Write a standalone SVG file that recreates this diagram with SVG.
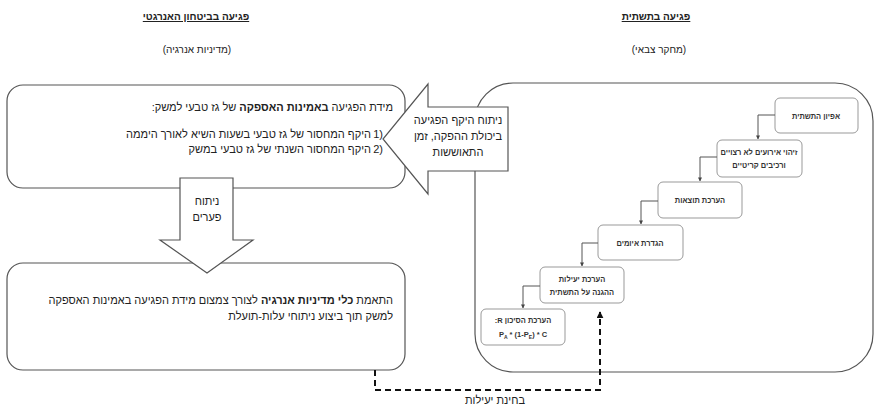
<svg xmlns="http://www.w3.org/2000/svg" width="874" height="408" viewBox="0 0 874 408">
<defs>
<style>
text{font-family:"Liberation Sans","DejaVu Sans",Arial,sans-serif;fill:#222}
.rtl{direction:rtl;unicode-bidi:embed}
.hdr{font-size:10px;font-weight:bold;text-decoration:underline}
.sub{font-size:10px}
.big{fill:#fff;stroke:#555;stroke-width:1.2}
.arr{fill:#fff;stroke:#555;stroke-width:1.2}
.step{fill:#fff;stroke:#999;stroke-width:1}
.st{font-size:7.5px;font-weight:bold;fill:#333}
.t11{font-size:11px}
.conn{fill:none;stroke:#555;stroke-width:1}
.dash{fill:none;stroke:#111;stroke-width:2;stroke-dasharray:6 4}
</style>
<marker id="ah" viewBox="0 0 10 10" refX="9" refY="5" markerWidth="4" markerHeight="4" orient="auto">
<path d="M0,0 L10,5 L0,10 Z" fill="#444"/>
</marker>
<marker id="ahd" viewBox="0 0 10 10" refX="9" refY="5" markerWidth="3.5" markerHeight="3.5" orient="auto">
<path d="M0,0 L10,5 L0,10 Z" fill="#111"/>
</marker>
</defs>
<rect width="874" height="408" fill="#fff"/>

<g id="headers">
<text class="hdr rtl" x="196" y="20" text-anchor="middle">פגיעה בביטחון האנרגטי</text>
<text class="sub rtl" x="197" y="53" text-anchor="middle">(מדיניות אנרגיה)</text>
<text class="hdr rtl" x="656" y="20" text-anchor="middle">פגיעה בתשתית</text>
<text class="sub rtl" x="659" y="53" text-anchor="middle">(מחקר צבאי)</text>
</g>

<g id="infra-box">
<rect class="big" x="475" y="83" width="398" height="289" rx="38"/>
</g>

<g id="supply-box">
<rect class="big" x="7" y="85" width="398" height="103" rx="16"/>
</g>

<g id="policy-box">
<rect class="big" x="7" y="263" width="398" height="107" rx="16"/>
</g>

<g id="impact-arrow">
<polygon class="arr" points="508,107 428,107 428,84 383,139 428,194 428,171 508,171"/>
<text class="t11 rtl" x="458" y="124" text-anchor="middle">ניתוח היקף הפגיעה</text>
<text class="t11 rtl" x="458" y="140" text-anchor="middle">ביכולת ההפקה, זמן</text>
<text class="t11 rtl" x="458" y="156" text-anchor="middle">התאוששות</text>
</g>

<g id="gap-arrow">
<polygon class="arr" points="180,178 233,178 233,240 253,240 207,273 160,240 180,240"/>
<text class="t11 rtl" x="207" y="205" text-anchor="middle">ניתוח</text>
<text class="t11 rtl" x="207" y="221" text-anchor="middle">פערים</text>
</g>

<g id="supply-text">
<text class="t11 rtl" x="393" y="111" text-anchor="start">מידת הפגיעה <tspan font-weight="bold">באמינות האספקה</tspan> של גז טבעי למשק:</text>
<text class="t11" x="383" y="138" text-anchor="end">1)</text>
<text class="t11 rtl" x="371" y="138" text-anchor="start">היקף המחסור של גז טבעי בשעות השיא לאורך היממה</text>
<text class="t11" x="383" y="153" text-anchor="end">2)</text>
<text class="t11 rtl" x="371" y="153" text-anchor="start">היקף המחסור השנתי של גז טבעי במשק</text>
</g>

<g id="policy-text">
<text class="t11 rtl" x="393" y="304" text-anchor="start">התאמת <tspan font-weight="bold">כלי מדיניות אנרגיה</tspan> לצורך צמצום מידת הפגיעה באמינות האספקה</text>
<text class="t11 rtl" x="393" y="320" text-anchor="start">למשק תוך ביצוע ניתוחי עלות-תועלת</text>
</g>

<g id="step1">
<rect class="step" x="775" y="98" width="83" height="35" rx="5"/>
<text class="st rtl" x="816" y="119" text-anchor="middle">אפיון התשתית</text>
</g>
<g id="step2">
<rect class="step" x="717" y="140" width="85" height="37" rx="5"/>
<text class="st rtl" x="759" y="155" text-anchor="middle">זיהוי אירועים לא רצויים</text>
<text class="st rtl" x="759" y="168" text-anchor="middle">ורכיבים קריטיים</text>
</g>
<g id="step3">
<rect class="step" x="658" y="182" width="84" height="36" rx="5"/>
<text class="st rtl" x="700" y="203" text-anchor="middle">הערכת תוצאות</text>
</g>
<g id="step4">
<rect class="step" x="598" y="225" width="85" height="35" rx="5"/>
<text class="st rtl" x="640" y="246" text-anchor="middle">הגדרת איומים</text>
</g>
<g id="step5">
<rect class="step" x="540" y="267" width="84" height="36" rx="5"/>
<text class="st rtl" x="582" y="282" text-anchor="middle">הערכת יעילות</text>
<text class="st rtl" x="582" y="295" text-anchor="middle">ההגנה על התשתית</text>
</g>
<g id="step6">
<rect class="step" x="481" y="309" width="84" height="36" rx="5"/>
<text class="st rtl" x="523" y="323" text-anchor="middle">הערכת הסיכון R:</text>
<text class="st" x="523" y="337" text-anchor="middle">P<tspan font-size="5px" dy="1.5">A</tspan><tspan dy="-1.5"> * (1-P</tspan><tspan font-size="5px" dy="1.5">E</tspan><tspan dy="-1.5">) * C</tspan></text>
</g>

<g id="connectors">
<path class="conn" d="M775,115 H758 V139" marker-end="url(#ah)"/>
<path class="conn" d="M717,157 H700 V181" marker-end="url(#ah)"/>
<path class="conn" d="M658,201 H641 V224" marker-end="url(#ah)"/>
<path class="conn" d="M598,243 H582 V266" marker-end="url(#ah)"/>
<path class="conn" d="M540,286 H523 V308" marker-end="url(#ah)"/>
<path class="dash" d="M375,370 V390 H600 V312" marker-end="url(#ahd)"/>
<text class="t11 rtl" x="495" y="404" text-anchor="middle">בחינת יעילות</text>
</g>
</svg>
